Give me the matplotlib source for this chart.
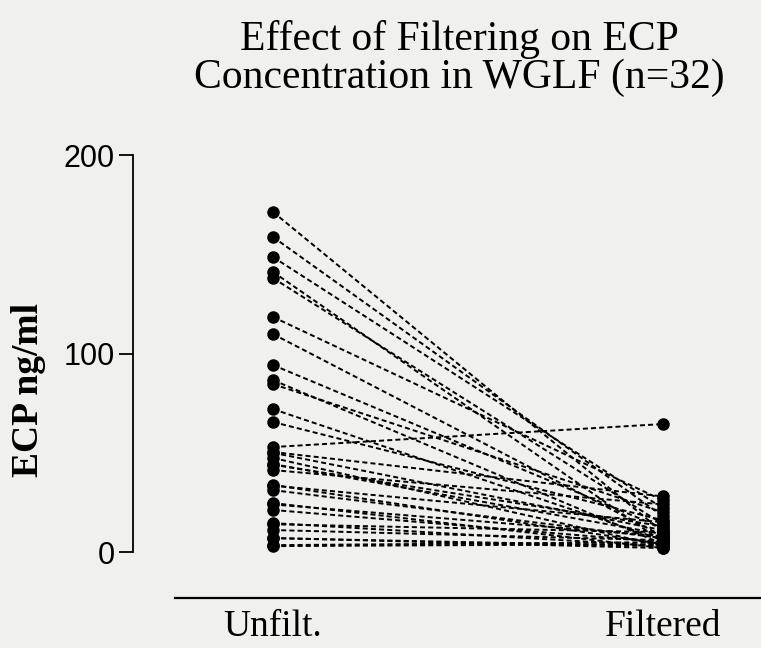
"""Effect of filtering on ECP concentration in WGLF: paired before/after plot."""

import matplotlib

matplotlib.use("Agg")
import matplotlib.pyplot as plt

# Paired ECP values (ng/ml), one entry per subject (n=32)
unfiltered = [171.3, 158.7, 148.6, 141.1, 138.0, 118.4, 109.8, 94.2,
              86.6, 84.6, 72.0, 65.5, 52.9, 50.4, 50.0, 47.4,
              44.3, 44.0, 41.3, 33.8, 33.5, 31.2, 24.7, 24.0,
              21.2, 14.6, 14.0, 11.1, 7.1, 7.0, 3.5, 3.0]
filtered = [10, 18, 22, 5, 14, 26, 8, 12,
            4, 20, 6, 16, 64.5, 28, 11, 3,
            9, 13, 24, 4, 15, 7, 2, 8,
            5, 3, 10, 6, 2, 3, 5, 4]
groups = ["Unfilt.", "Filtered"]
yticks = [0, 100, 200]

BG = "#f0f0ee"
SERIF = "Liberation Serif"
SANS = "Liberation Sans"

fig = plt.figure(figsize=(7.61, 6.48), dpi=100, facecolor=BG)
ax = fig.add_axes([0.1748, 0.1327, 0.8252, 0.6281])
ax.set_facecolor(BG)

for u, f in zip(unfiltered, filtered):
    ax.plot([0, 1], [u, f], color="black", lw=1.4, ls=(0, (2.6, 1.6)),
            marker="o", ms=8, mfc="black", mec="black", clip_on=False)

ax.set_xlim(-0.359, 1.251)
ax.set_ylim(-5, 200)

ax.spines["top"].set_visible(False)
ax.spines["right"].set_visible(False)
ax.spines["left"].set_bounds(0, 200)
ax.spines["left"].set_linewidth(1.3)
ax.spines["bottom"].set_position(("outward", 26))
ax.spines["bottom"].set_bounds(-0.251, 1.251)
ax.spines["bottom"].set_linewidth(1.6)

ax.set_yticks(yticks)
ax.set_yticklabels([str(t) for t in yticks], fontfamily=SANS, fontsize=22)
ax.tick_params(axis="y", direction="out", length=10, width=1.3, pad=3)

ax.set_xticks([0, 1])
ax.set_xticklabels(groups, fontfamily=SERIF, fontsize=27)
ax.tick_params(axis="x", length=0, pad=8)

fig.text(28 / 761, 1 - 390 / 648, "ECP ng/ml", rotation=90, ha="center",
         va="center", fontfamily=SERIF, fontweight="bold", fontsize=27)

fig.text(0.603, 0.91, "Effect of Filtering on ECP\nConcentration in WGLF (n=32)",
         ha="center", va="center", fontfamily=SERIF, fontsize=30,
         linespacing=1.0)

fig.savefig("out.png", dpi=100, facecolor=BG)
plt.close(fig)
